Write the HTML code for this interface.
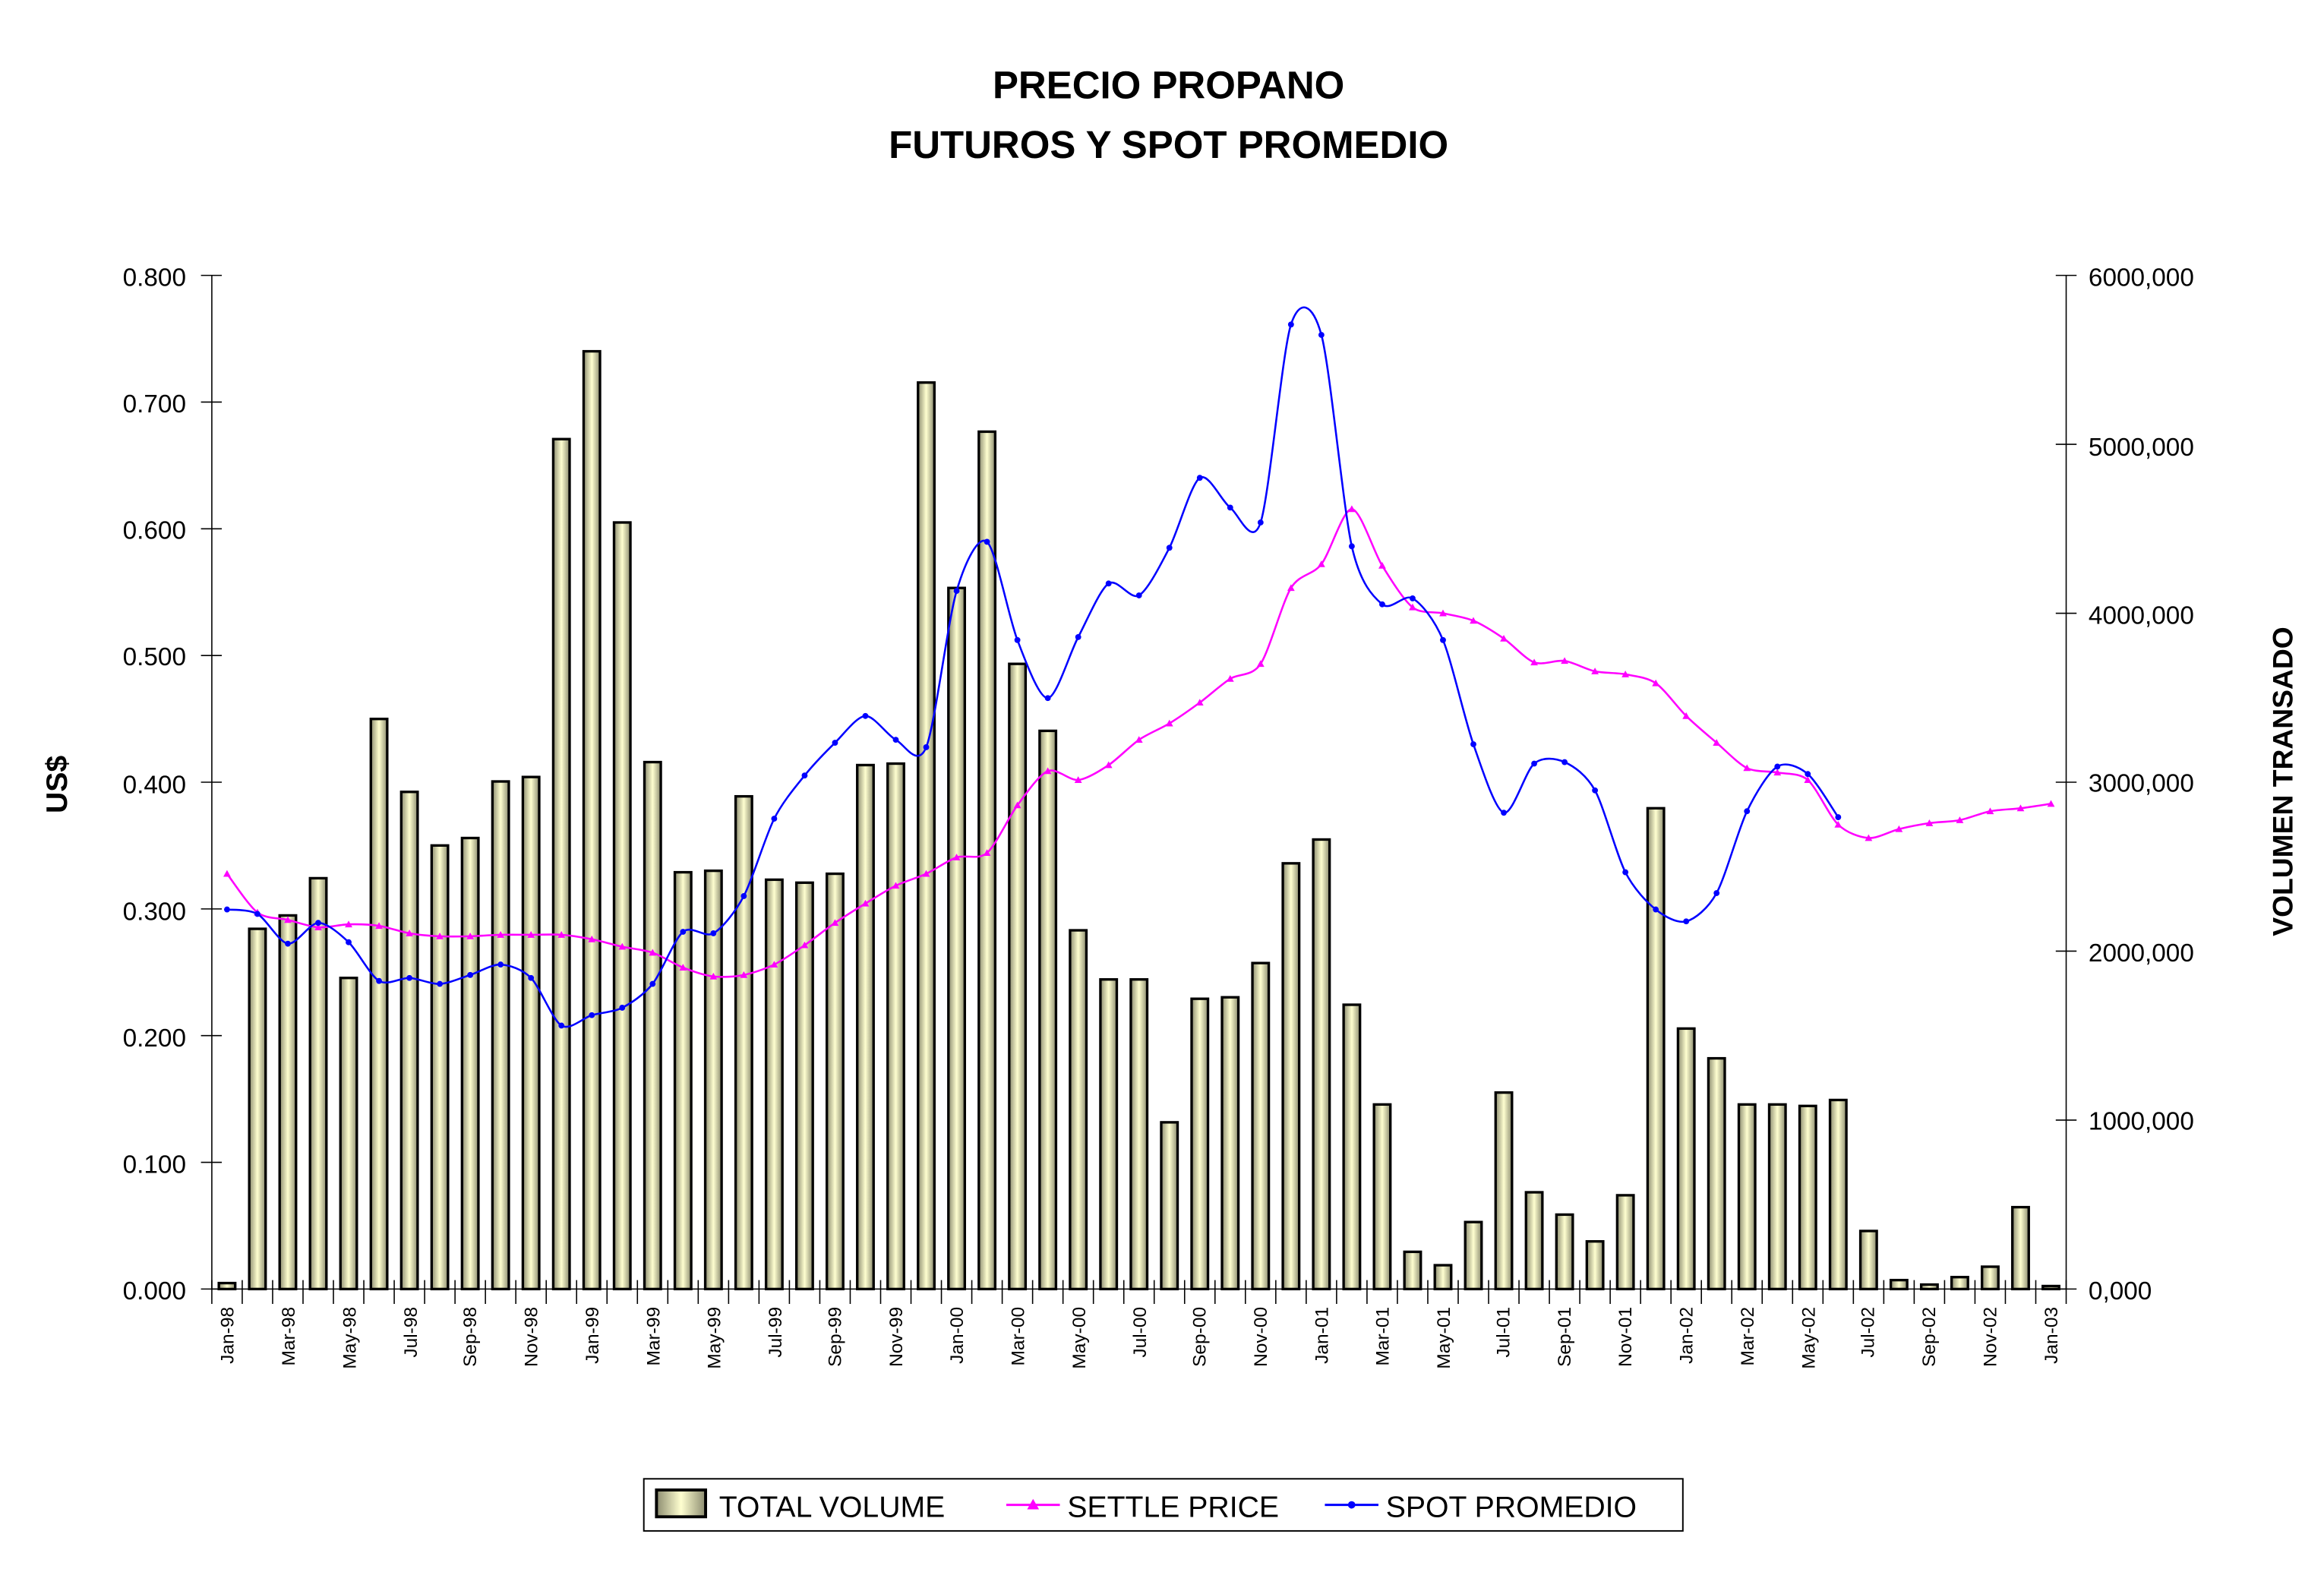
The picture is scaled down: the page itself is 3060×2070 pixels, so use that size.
<!DOCTYPE html>
<html><head><meta charset="utf-8">
<style>
html,body{margin:0;padding:0;background:#fff;}
svg{display:block;}
text{font-family:"Liberation Sans",sans-serif;fill:#000;}
</style></head>
<body>
<svg id="c" width="3060" height="2070" viewBox="0 0 1561.2 1056.1" xmlns="http://www.w3.org/2000/svg">
<defs>
<linearGradient id="bg" x1="0" x2="1" y1="0" y2="0">
<stop offset="0" stop-color="#8c8c70"/>
<stop offset="0.5" stop-color="#ffffd0"/>
<stop offset="1" stop-color="#8c8c70"/>
</linearGradient>
</defs>
<rect width="1561.2" height="1056.1" fill="#fff"/>
<text x="785" y="66" font-size="26" font-weight="bold" text-anchor="middle">PRECIO PROPANO</text>
<text x="785" y="106" font-size="26" font-weight="bold" text-anchor="middle">FUTUROS Y SPOT PROMEDIO</text>
<g id="bars"></g>
<g id="axes" stroke="#000" stroke-width="0.8" fill="none"></g>
<g font-size="17" text-anchor="end">
<text x="125" y="192">0.800</text>
<text x="125" y="277">0.700</text>
<text x="125" y="362">0.600</text>
<text x="125" y="447">0.500</text>
<text x="125" y="533">0.400</text>
<text x="125" y="618">0.300</text>
<text x="125" y="703">0.200</text>
<text x="125" y="788">0.100</text>
<text x="125" y="873">0.000</text>
</g>
<g font-size="17">
<text x="1403" y="192">6000,000</text>
<text x="1403" y="306">5000,000</text>
<text x="1403" y="419">4000,000</text>
<text x="1403" y="532">3000,000</text>
<text x="1403" y="646">2000,000</text>
<text x="1403" y="759">1000,000</text>
<text x="1403" y="873">0,000</text>
</g>
<text transform="translate(45,527) rotate(-90)" font-size="20" font-weight="bold" text-anchor="middle">US$</text>
<text transform="translate(1540,525) rotate(-90)" font-size="19" font-weight="bold" text-anchor="middle">VOLUMEN TRANSADO</text>
<g id="xl" font-size="12.5" text-anchor="end">
<text transform="translate(157,878) rotate(-90)">Jan-98</text>
<text transform="translate(198,878) rotate(-90)">Mar-98</text>
<text transform="translate(239,878) rotate(-90)">May-98</text>
<text transform="translate(280,878) rotate(-90)">Jul-98</text>
<text transform="translate(320,878) rotate(-90)">Sep-98</text>
<text transform="translate(361,878) rotate(-90)">Nov-98</text>
<text transform="translate(402,878) rotate(-90)">Jan-99</text>
<text transform="translate(443,878) rotate(-90)">Mar-99</text>
<text transform="translate(484,878) rotate(-90)">May-99</text>
<text transform="translate(525,878) rotate(-90)">Jul-99</text>
<text transform="translate(565,878) rotate(-90)">Sep-99</text>
<text transform="translate(606,878) rotate(-90)">Nov-99</text>
<text transform="translate(647,878) rotate(-90)">Jan-00</text>
<text transform="translate(688,878) rotate(-90)">Mar-00</text>
<text transform="translate(729,878) rotate(-90)">May-00</text>
<text transform="translate(770,878) rotate(-90)">Jul-00</text>
<text transform="translate(810,878) rotate(-90)">Sep-00</text>
<text transform="translate(851,878) rotate(-90)">Nov-00</text>
<text transform="translate(892,878) rotate(-90)">Jan-01</text>
<text transform="translate(933,878) rotate(-90)">Mar-01</text>
<text transform="translate(974,878) rotate(-90)">May-01</text>
<text transform="translate(1014,878) rotate(-90)">Jul-01</text>
<text transform="translate(1055,878) rotate(-90)">Sep-01</text>
<text transform="translate(1096,878) rotate(-90)">Nov-01</text>
<text transform="translate(1137,878) rotate(-90)">Jan-02</text>
<text transform="translate(1178,878) rotate(-90)">Mar-02</text>
<text transform="translate(1219,878) rotate(-90)">May-02</text>
<text transform="translate(1259,878) rotate(-90)">Jul-02</text>
<text transform="translate(1300,878) rotate(-90)">Sep-02</text>
<text transform="translate(1341,878) rotate(-90)">Nov-02</text>
<text transform="translate(1382,878) rotate(-90)">Jan-03</text>
</g>
<g id="lines"></g>
<rect x="432.5" y="993.5" width="698" height="35" fill="#fff" stroke="#000" stroke-width="1"/>
<rect x="441" y="1001" width="33" height="18" fill="url(#bg)" stroke="#000" stroke-width="2"/>
<text x="483" y="1019" font-size="20">TOTAL VOLUME</text>
<line x1="676" y1="1011" x2="712" y2="1011" stroke="#ff00ff" stroke-width="1.5"/>
<path d="M694,1007 L698,1014 L690,1014Z" fill="#ff00ff"/>
<text x="717" y="1019" font-size="20">SETTLE PRICE</text>
<line x1="890" y1="1011" x2="926" y2="1011" stroke="#0000ff" stroke-width="1.5"/>
<circle cx="908" cy="1011" r="2.5" fill="#0000ff"/>
<text x="931" y="1019" font-size="20">SPOT PROMEDIO</text>
</svg>
<script>
(function(){
var NS="http://www.w3.org/2000/svg";
var x0=142.3,cw=(1388-142.3)/61,y0=866;
function cx(i){return x0+cw*(i+0.5);}
function el(t,a,p){var e=document.createElementNS(NS,t);for(var k in a)e.setAttribute(k,a[k]);p.appendChild(e);return e;}
var vol=[862,624,615,590,657,483,532,568,563,525,522,295,236,351,512,586,585,535,591,593,587,514,513,257,395,290,446,491,625,658,658,754,671,670,647,580,564,675,742,841,850,821,734,801,816,834,803,543,691,711,742,742,743,739,827,860,863,858,851,811,864];
var bars=document.getElementById('bars');
vol.forEach(function(y,i){el('rect',{x:cx(i)-5.5,y:y,width:11,height:y0-y,fill:'url(#bg)',stroke:'#000','stroke-width':1.7},bars);});
var ax=document.getElementById('axes');
el('line',{x1:142.3,y1:185,x2:142.3,y2:866},ax);
el('line',{x1:1388,y1:185,x2:1388,y2:866},ax);
el('line',{x1:142.3,y1:866,x2:1388,y2:866},ax);
for(var k=0;k<=8;k++){var y=185+k*(681/8);el('line',{x1:135,y1:y,x2:149,y2:y},ax);}
for(var k=0;k<=6;k++){var y=185+k*(681/6);el('line',{x1:1381,y1:y,x2:1395,y2:y},ax);}
for(var i=0;i<=61;i++){var x=x0+cw*i;el('line',{x1:x,y1:860,x2:x,y2:876},ax);}
var settle=[587,613,618,623,621,622,627,629,629,628,628,628,631,636,640,650,656,655,648,635,620,607,595,587,576,573,541,518,524,514,497,486,472,456,446,395,379,342,380,408,412,417,429,445,444,451,453,459,481,499,516,519,524,554,563,557,553,551,545,543,540];
var spot=[611,614,634,620,633,659,657,661,655,648,657,689,682,677,661,626,627,602,550,521,499,481,497,502,397,364,430,469,428,392,400,368,321,341,351,218,225,367,406,402,430,500,546,513,512,531,586,611,619,600,545,515,520,549];
function path(ys){var p=ys.map(function(y,i){return [cx(i),y];});var d='M'+p[0][0]+','+p[0][1];
for(var i=0;i<p.length-1;i++){var a=p[Math.max(0,i-1)],b=p[i],c=p[i+1],e=p[Math.min(p.length-1,i+2)];
var t=1/7;d+=' C'+(b[0]+(c[0]-a[0])*t)+','+(b[1]+(c[1]-a[1])*t)+' '+(c[0]-(e[0]-b[0])*t)+','+(c[1]-(e[1]-b[1])*t)+' '+c[0]+','+c[1];}
return d;}
var L=document.getElementById('lines');
el('path',{d:path(settle),fill:'none',stroke:'#ff00ff','stroke-width':1.3},L);
settle.forEach(function(y,i){var x=cx(i);el('path',{d:'M'+x+','+(y-2.5)+' L'+(x+2.5)+','+(y+2)+' L'+(x-2.5)+','+(y+2)+'Z',fill:'#ff00ff'},L);});
el('path',{d:path(spot),fill:'none',stroke:'#0000ff','stroke-width':1.3},L);
spot.forEach(function(y,i){el('circle',{cx:cx(i),cy:y,r:2,fill:'#0000ff'},L);});
})();
</script>
</body></html>
